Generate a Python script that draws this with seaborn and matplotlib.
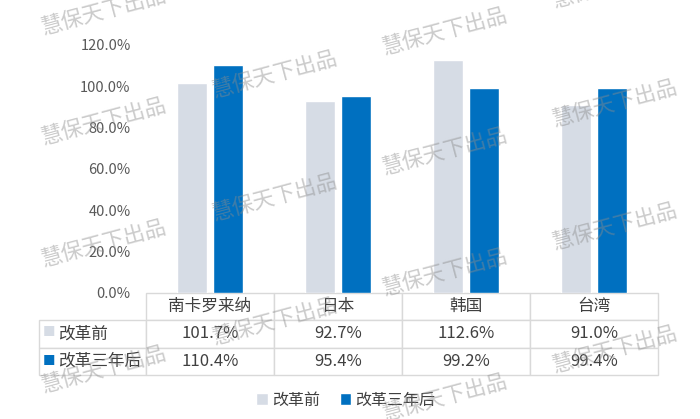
import matplotlib
matplotlib.use("Agg")
import matplotlib.pyplot as plt
from matplotlib.table import Table
import pandas as pd
import seaborn as sns

# data
categories = ["南卡罗来纳", "日本", "韩国", "台湾"]
series_names = ["改革前", "改革三年后"]
before_reform = [101.7, 92.7, 112.6, 91.0]
after_reform = [110.4, 95.4, 99.2, 99.4]
y_ticks = [0, 20, 40, 60, 80, 100, 120]

colors = ["#D6DCE5", "#0070C0"]
text_color = "#404040"
grid_color = "#D9D9D9"
font_list = ["Noto Sans CJK SC", "DejaVu Sans"]

sns.set_theme(style="white")
plt.rcParams["font.family"] = font_list

df = pd.DataFrame(
    {
        "地区": categories * 2,
        "值": before_reform + after_reform,
        "系列": [series_names[0]] * 4 + [series_names[1]] * 4,
    }
)

fig = plt.figure(figsize=(7.0, 4.19), dpi=100)
ax = fig.add_axes([146 / 700, 1 - 293 / 419, 512 / 700, 248 / 419])

sns.barplot(
    data=df,
    x="地区",
    y="值",
    hue="系列",
    hue_order=series_names,
    palette=colors,
    width=0.56,
    gap=0.17,
    saturation=1,
    ax=ax,
)

ax.set_ylim(0, 120)
ax.set_yticks(y_ticks)
ax.set_yticklabels([f"{v:.1f}%" for v in y_ticks], color="#595959", fontsize=10.5)
ax.tick_params(axis="y", length=0, pad=11)
ax.set_xticks([])
ax.set_xlabel("")
ax.set_ylabel("")
for side in ["top", "right", "left", "bottom"]:
    ax.spines[side].set_visible(False)

# data table under the bars
table_h = 82 / 248
table = Table(ax, bbox=[-107 / 512, -table_h, 619 / 512, table_h])
table.auto_set_font_size(False)
col_w = [107] + [128] * len(categories)
rows = [[""] + categories,
        [series_names[0]] + [f"{v:.1f}%" for v in before_reform],
        [series_names[1]] + [f"{v:.1f}%" for v in after_reform]]
for r, row in enumerate(rows):
    for c, txt in enumerate(row):
        loc = "left" if c == 0 else "center"
        cell = table.add_cell(r, c, width=col_w[c], height=1.0, text=txt, loc=loc)
        cell.set_edgecolor(grid_color)
        cell.set_linewidth(1.0)
        if c == 0:
            cell.PAD = 0.18
        if r == 0 and c == 0:
            cell.visible_edges = ""
ax.add_table(table)
table.set_fontsize(12)
for cell in table.get_celld().values():
    cell.get_text().set_color(text_color)
    cell.get_text().set_fontsize(12)

# little colour keys in the row labels
for i, col in enumerate(colors):
    y_px = 333 + i * 28
    fig.text(49 / 700, 1 - y_px / 419, "■", color=col, fontsize=9,
             ha="center", va="center")

# legend at the bottom
handles, labels = ax.get_legend_handles_labels()
ax.legend_.remove()
fig.legend(
    handles,
    labels,
    loc="center",
    bbox_to_anchor=(346 / 700, 1 - 400 / 419),
    ncol=2,
    frameon=False,
    fontsize=11.5,
    handlelength=0.7,
    handleheight=0.7,
    handletextpad=0.3,
    columnspacing=1.2,
    labelcolor=text_color,
)

# watermark
wm_cols = {
    104: [12, 122, 244, 370],
    275: [75, 198, 322],
    445: [32, 152, 273, 398],
    615: [-15, 104, 227, 350],
}
for x_px, ys in wm_cols.items():
    for y_px in ys:
        fig.text(x_px / 700, 1 - y_px / 419, "慧保天下出品", fontsize=15.5,
                 rotation=15, color="#8c8c8c", alpha=0.45,
                 ha="center", va="center", zorder=10)

fig.savefig("out.png", dpi=100)
